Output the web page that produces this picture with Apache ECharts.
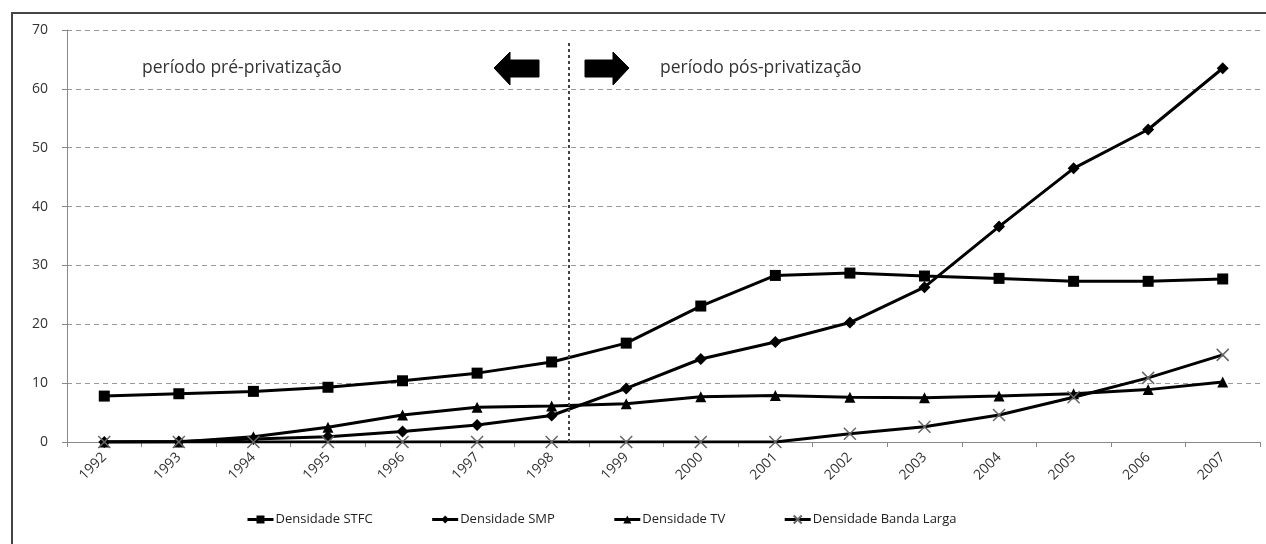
<!DOCTYPE html>
<html><head><meta charset="utf-8">
<script src="https://cdn.jsdelivr.net/npm/echarts@6/dist/echarts.min.js"></script>
<style>html,body{margin:0;padding:0;background:#fff}#c{width:1266px;height:544px}</style>
</head><body><div id="c"></div>
<script>
const years = ['1992','1993','1994','1995','1996','1997','1998','1999','2000','2001','2002','2003','2004','2005','2006','2007'];
const stfc = [7.8, 8.2, 8.6, 9.3, 10.4, 11.7, 13.6, 16.8, 23.1, 28.3, 28.7, 28.2, 27.8, 27.3, 27.3, 27.7];
const smp = [0.0, 0.1, 0.5, 0.9, 1.8, 2.9, 4.5, 9.1, 14.1, 17.0, 20.3, 26.3, 36.6, 46.5, 53.1, 63.5];
const tv = [0.0, 0.0, 0.9, 2.5, 4.6, 5.9, 6.1, 6.5, 7.7, 7.9, 7.6, 7.5, 7.8, 8.2, 8.9, 10.2];
const banda = [0, 0, 0, 0, 0, 0, 0, 0, 0, 0, 1.4, 2.6, 4.6, 7.6, 10.9, 14.8];
const yTicks = [0, 10, 20, 30, 40, 50, 60, 70];
const names = ['Densidade STFC', 'Densidade SMP', 'Densidade TV', 'Densidade Banda Larga'];
const dividerPos = 6.23; // between 1998 and 1999 (category index)
const dividerTop = 67.8;
const annotations = ['período pré-privatização', 'período pós-privatização'];

const FONT = '"Open Sans","Noto Sans",sans-serif';
const chart = echarts.init(document.getElementById('c'), null, {renderer: 'canvas'});
const lineStyle = {color: '#000', width: 3};
const mk = (name, data, symbol, size, extra) => Object.assign({
  name, type: 'line', data, symbol, symbolSize: size,
  lineStyle, itemStyle: {color: '#000'}, z: 3, animation: false
}, extra || {});

chart.setOption({
  animation: false,
  textStyle: {fontFamily: FONT},
  grid: {left: 67, right: 6, top: 30, bottom: 102},
  legend: {
    bottom: 13, left: 241, itemGap: 58, itemWidth: 26, itemHeight: 10,
    lineStyle: {width: 3, color: '#000'},
    textStyle: {fontSize: 13, color: '#222', fontFamily: FONT, padding: [0, 0, 0, -3]},
    data: names
  },
  xAxis: [{
    type: 'category', data: years, boundaryGap: true,
    axisLine: {lineStyle: {color: '#888', width: 1}},
    axisTick: {show: true, length: 5, lineStyle: {color: '#888'}},
    axisLabel: {rotate: 45, fontSize: 14, color: '#333', margin: 13, fontFamily: FONT}
  }, {
    type: 'value', min: -0.5, max: 15.5, show: false
  }],
  yAxis: {
    type: 'value', min: 0, max: 70, interval: 10,
    axisLine: {show: true, onZero: false, lineStyle: {color: '#888'}},
    axisTick: {show: true, length: 5, lineStyle: {color: '#888'}},
    axisLabel: {fontSize: 14, color: '#333', margin: 19, fontFamily: FONT,
      formatter: v => yTicks.includes(v) ? String(v) : ''},
    splitLine: {lineStyle: {color: '#999', type: [5, 4], width: 1}}
  },
  series: [
    mk(names[0], stfc, 'rect', 11),
    mk(names[1], smp, 'diamond', 12),
    mk(names[2], tv, 'triangle', 11),
    mk(names[3], banda, 'path://M0,0L10,10M0,10L10,0', 12, {
      itemStyle: {color: 'none', borderColor: '#666', borderWidth: 1.5}
    }),
    {
      type: 'line', xAxisIndex: 1, data: [], silent: true,
      markLine: {
        symbol: 'none', silent: true, label: {show: false},
        lineStyle: {color: '#444', type: [3, 3], width: 2},
        data: [[{xAxis: dividerPos, yAxis: dividerTop}, {xAxis: dividerPos, yAxis: 0}]]
      }
    }
  ],
  graphic: [
    {type: 'rect', shape: {x: 12, y: 13, width: 1280, height: 560},
      style: {fill: 'none', stroke: '#444', lineWidth: 2}, z: -1},
    {type: 'text', left: 142, top: 59,
      style: {text: annotations[0], font: '17.5px ' + FONT, fill: '#333'}},
    {type: 'text', left: 660, top: 59,
      style: {text: annotations[1], font: '17.5px ' + FONT, fill: '#333'}},
    {type: 'polygon', shape: {points: [[494,68],[510,52],[510,60],[539,60],[539,77],[510,77],[510,85]]},
      style: {fill: '#000', stroke: '#000', lineWidth: 1, lineJoin: 'round'}},
    {type: 'polygon', shape: {points: [[629,68],[613,52],[613,60],[585,60],[585,77],[613,77],[613,85]]},
      style: {fill: '#000', stroke: '#000', lineWidth: 1, lineJoin: 'round'}}
  ]
});
</script></body></html>
